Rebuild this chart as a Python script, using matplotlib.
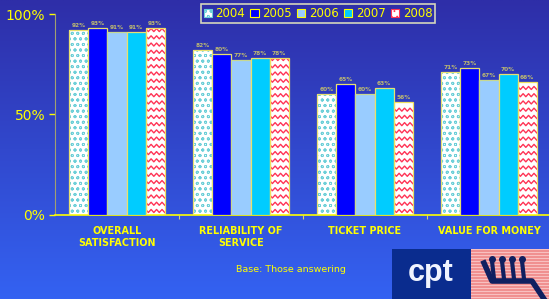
import numpy as np
import matplotlib
matplotlib.use("Agg")
import matplotlib.pyplot as plt
from matplotlib.patches import Rectangle
from matplotlib.lines import Line2D

categories = ["OVERALL\nSATISFACTION", "RELIABILITY OF\nSERVICE", "TICKET PRICE", "VALUE FOR MONEY"]
years = ["2004", "2005", "2006", "2007", "2008"]
v2004 = [92, 82, 60, 71]
v2005 = [93, 80, 65, 73]
v2006 = [91, 77, 60, 67]
v2007 = [91, 78, 63, 70]
v2008 = [93, 78, 56, 66]
series = [v2004, v2005, v2006, v2007, v2008]
yticks = [0, 50, 100]
ytick_labels = ["0%", "50%", "100%"]

plt.rcParams["hatch.linewidth"] = 0.6

W, H = 549, 299
fig = plt.figure(figsize=(W / 100, H / 100), dpi=100)

# background gradient
bg = fig.add_axes([0, 0, 1, 1])
grad = np.linspace(0, 1, 256).reshape(-1, 1)
top = np.array([46, 46, 168]) / 255
bot = np.array([52, 98, 242]) / 255
img = top + (bot - top) * grad[:, :, None] * np.ones((1, 2, 1))
bg.imshow(img, aspect="auto", extent=[0, 1, 0, 1], origin="upper")
bg.set_axis_off()

yel = "#FFFF00"
ax = fig.add_axes([55 / W, (H - 215) / H, (551 - 55) / W, (215 - 14) / H])
ax.patch.set_alpha(0)
ax.set_xlim(-0.5, 3.5)
ax.set_ylim(0, 100)

bw = 0.154
x = np.arange(len(categories))
fills = ["white", "#0000FF", "#99CCFF", "#00CCFF", "white"]
edge_cols = ["#E8E070", "#E8E070", "#C8D890", "#E8E070", "#F0E060"]
zig_col = "#FF3355"
dot_col = "#6CCFD8"

bar_groups = []
for i, vals in enumerate(series):
    pos = x + (i - 2) * bw
    if i == 0:
        ax.bar(pos, vals, bw, color="white", edgecolor=dot_col, hatch="ooo", linewidth=0, zorder=2)
    elif i == 4:
        ax.bar(pos, vals, bw, color="white", linewidth=0, zorder=2)
    bars = ax.bar(pos, vals, bw, color="none" if i in (0, 4) else fills[i],
                  edgecolor=edge_cols[i], linewidth=0.9, zorder=3)
    bar_groups.append(bars)
    for p, v in zip(pos, vals):
        ax.text(p, v + 1.2, f"{v}%", ha="center", va="bottom", fontsize=4.2,
                color="#BEBA70", fontweight="bold", zorder=5)

# zigzag pattern for 2008
for b in bar_groups[4]:
    x0, w, h = b.get_x(), b.get_width(), b.get_height()
    nseg = 7
    xs = np.linspace(x0, x0 + w, nseg + 1)
    amp = 1.5
    for y0 in np.arange(2.0, h, 3.6):
        ys = y0 + amp * np.array([(-1) ** k for k in range(nseg + 1)]) / 2
        ln = Line2D(xs, ys, color=zig_col, lw=1.0, zorder=2.5)
        ax.add_line(ln)
        ln.set_clip_path(b)

for s in ["top", "right"]:
    ax.spines[s].set_visible(False)
ax.spines["left"].set_color("#A0A070")
ax.spines["bottom"].set_color(yel)
ax.spines["bottom"].set_linewidth(1.2)
ax.set_yticks(yticks)
ax.set_yticklabels(ytick_labels, fontsize=10, color=yel)
ax.tick_params(axis="y", colors=yel, length=4, width=1, labelcolor=yel, pad=3)
ax.set_xticks([0.5, 1.5, 2.5])
ax.set_xticklabels([])
ax.tick_params(axis="x", colors="#D0D080", length=3, direction="out")
for xi, c in zip(x, categories):
    ax.text(xi, -5.5, c, ha="center", va="top", fontsize=6.9, color=yel,
            fontweight="semibold", linespacing=1.25)

# legend
handles = []
for i in range(5):
    if i == 0:
        handles.append(Rectangle((0, 0), 1, 1, facecolor="white", edgecolor=dot_col, hatch="ooo", lw=0.8))
    elif i == 4:
        handles.append(Rectangle((0, 0), 1, 1, facecolor="white", edgecolor=zig_col, hatch="...", lw=0.8))
    else:
        handles.append(Rectangle((0, 0), 1, 1, facecolor=fills[i], edgecolor=yel, lw=0.8))
leg = fig.legend(handles, years, loc="center", bbox_to_anchor=(318 / W, 1 - 13.5 / H), ncol=5,
                 frameon=True, fontsize=8.5, handlelength=0.7, handleheight=0.7, handletextpad=0.3,
                 columnspacing=0.45, borderpad=0.25, borderaxespad=0)
leg.get_frame().set_facecolor("none")
leg.get_frame().set_edgecolor("#FFFFC0")
leg.get_frame().set_linewidth(1.2)
leg.get_frame().set_boxstyle("square", pad=0)
for t in leg.get_texts():
    t.set_color(yel)

fig.text(291 / W, 1 - 270 / H, "Base: Those answering", ha="center", va="center", fontsize=6.8, color=yel)

# logo
la = fig.add_axes([392 / W, 0, (W - 392) / W, (H - 249) / H])
la.set_xlim(0, 157)
la.set_ylim(0, 50)
la.set_axis_off()
la.add_patch(Rectangle((0, 0), 79, 50, facecolor="#0A2C8E", lw=0))
la.add_patch(Rectangle((79, 0), 78, 50, facecolor="#F09090", lw=0))
for yy in np.arange(1, 50, 3):
    la.add_patch(Rectangle((79, yy), 78, 1.3, facecolor="#F8C0C0", lw=0))
la.text(39, 26, "cpt", ha="center", va="center", fontsize=22, color="#F0F4FF",
        fontweight="bold", family="Liberation Sans")
la.plot([92, 100, 140, 152], [36, 18, 18, 0], color="#102060", lw=4)
for cx in [100, 110, 120, 130]:
    la.plot([cx, cx + 2], [38, 20], color="#102060", lw=3)
    la.plot(cx, 40, "o", color="#102060", ms=4)

fig.savefig("out.png", dpi=100)
